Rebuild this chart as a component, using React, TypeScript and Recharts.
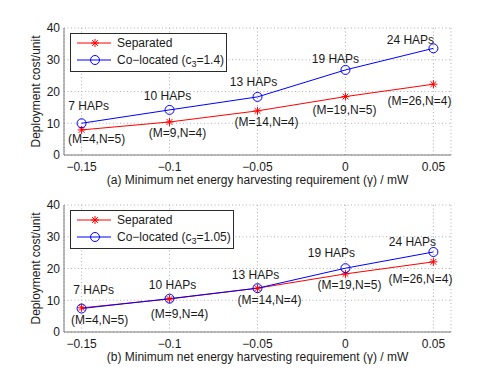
import React from "react";
import {
  LineChart,
  Line,
  XAxis,
  YAxis,
  CartesianGrid,
  LabelList,
} from "recharts";

const gamma = [-0.15, -0.1, -0.05, 0, 0.05];
const yTicks = [0, 10, 20, 30, 40];

// panel (a)
const separatedA = [7.9, 10.4, 13.9, 18.4, 22.3];
const colocatedA = [10.0, 14.2, 18.3, 26.8, 33.6];
// panel (b)
const separatedB = [7.6, 10.4, 13.8, 18.3, 22.1];
const colocatedB = [7.4, 10.5, 13.8, 20.1, 25.2];

const hapLabels = ["7 HAPs", "10 HAPs", "13 HAPs", "19 HAPs", "24 HAPs"];
const mnLabels = ["(M=4,N=5)", "(M=9,N=4)", "(M=14,N=4)", "(M=19,N=5)", "(M=26,N=4)"];

// pixel nudges of the annotations from their points (like matlab text())
const hapNudgeA = [[7, -17], [-2, -14], [-4, -15], [-10, -11], [-23, -8]];
const mnNudgeA = [[15, 9], [8, 11], [9, 11], [-1, 13], [-14, 17]];
const hapNudgeB = [[12, -19], [3, -14], [-2, -13], [-14, -15], [-21, -10]];
const mnNudgeB = [[18, 12], [10, 15], [12, 12], [4, 11], [-13, 17]];

const FONT = "'Liberation Sans', Arial, Helvetica, sans-serif";
const TEXT = "#1a1a1a";
const AXIS = "#7a7a7a";

const fmt = (v: number) => (v < 0 ? "\u2212" + String(Math.abs(v)) : String(v));

const Star = (props: any) => {
  const { cx, cy } = props;
  if (cx == null || cy == null) return null;
  const r = 4;
  const d = r * 0.72;
  return (
    <g stroke="#ff0000" strokeWidth={1}>
      <line x1={cx - r} y1={cy} x2={cx + r} y2={cy} />
      <line x1={cx} y1={cy - r} x2={cx} y2={cy + r} />
      <line x1={cx - d} y1={cy - d} x2={cx + d} y2={cy + d} />
      <line x1={cx - d} y1={cy + d} x2={cx + d} y2={cy - d} />
    </g>
  );
};

const Ring = (props: any) => {
  const { cx, cy } = props;
  if (cx == null || cy == null) return null;
  return <circle cx={cx} cy={cy} r={4.5} fill="none" stroke="#0000ff" strokeWidth={1} />;
};

const note = (texts: string[], nudge: number[][]) => (props: any) => {
  const { x, y, index } = props;
  if (x == null || y == null || index == null) return null;
  return (
    <text
      x={x + nudge[index][0]}
      y={y + nudge[index][1]}
      textAnchor="middle"
      dominantBaseline="central"
      fontSize={12}
      fontFamily={FONT}
      fill={TEXT}
    >
      {texts[index]}
    </text>
  );
};

function LegendBox({ left, top, width, c3 }: { left: number; top: number; width: number; c3: string }) {
  return (
    <svg
      width={width}
      height={40}
      style={{ position: "absolute", left, top, overflow: "visible" }}
    >
      <rect x={0.5} y={0.5} width={width - 1} height={38} fill="#fff" stroke="#2b2b2b" />
      <line x1={7} y1={10} x2={41} y2={10} stroke="#ff0000" />
      <Star cx={25} cy={10} />
      <text x={47} y={10} dominantBaseline="central" fontSize={12} fontFamily={FONT} fill={TEXT}>
        Separated
      </text>
      <line x1={7} y1={27} x2={41} y2={27} stroke="#0000ff" />
      <Ring cx={25} cy={27} />
      <text x={47} y={27} dominantBaseline="central" fontSize={12} fontFamily={FONT} fill={TEXT}>
        Co{"\u2212"}located (c
        <tspan fontSize={9} dy={4}>3</tspan>
        <tspan dy={-4}>={c3})</tspan>
      </text>
    </svg>
  );
}

type PanelProps = {
  height: number;
  top: number;
  axisH: number;
  labelOffset: number;
  tag: string;
  separated: number[];
  colocated: number[];
  hapNudge: number[][];
  mnNudge: number[][];
};

function Panel(p: PanelProps) {
  const data = gamma.map((g, i) => ({ g, sep: p.separated[i], col: p.colocated[i] }));
  return (
    <LineChart
      width={498}
      height={p.height}
      data={data}
      margin={{ top: p.top, right: 47, bottom: 0, left: 0 }}
    >
      <CartesianGrid stroke="#b0b0b0" strokeDasharray="1 2.5" verticalPoints={undefined} />
      <XAxis
        dataKey="g"
        type="number"
        domain={[-0.16, 0.06]}
        ticks={gamma}
        tickFormatter={fmt}
        height={p.axisH}
        tickLine={false}
        tickSize={0}
        tickMargin={7}
        stroke={AXIS}
        tick={{ fill: TEXT, fontSize: 12, fontFamily: FONT }}
        label={{
          value: `(${p.tag}) Minimum net energy harvesting requirement (\u03b3) / mW`,
          position: "insideBottom",
          offset: p.labelOffset,
          fill: TEXT,
          fontSize: 12,
          fontFamily: FONT,
        }}
      />
      <XAxis
        xAxisId="top"
        orientation="top"
        dataKey="g"
        type="number"
        domain={[-0.16, 0.06]}
        height={0}
        tick={false}
        tickLine={false}
        stroke={AXIS}
      />
      <YAxis
        type="number"
        domain={[0, 40]}
        ticks={yTicks}
        width={64}
        tickLine={false}
        tickSize={0}
        tickMargin={4}
        stroke={AXIS}
        tick={{ fill: TEXT, fontSize: 12, fontFamily: FONT }}
        label={{
          value: "Deployment cost/unit",
          angle: -90,
          position: "center",
          dx: 4,
          fill: TEXT,
          fontSize: 12,
          fontFamily: FONT,
        }}
      />
      <YAxis
        yAxisId="right"
        orientation="right"
        type="number"
        domain={[0, 40]}
        width={0}
        tick={false}
        tickLine={false}
        stroke={AXIS}
      />
      <Line
        dataKey="sep"
        stroke="#ff0000"
        strokeWidth={1}
        dot={<Star />}
        activeDot={false}
        isAnimationActive={false}
      >
        <LabelList dataKey="sep" content={note(mnLabels, p.mnNudge)} />
      </Line>
      <Line
        dataKey="col"
        stroke="#0000ff"
        strokeWidth={1}
        dot={<Ring />}
        activeDot={false}
        isAnimationActive={false}
      >
        <LabelList dataKey="col" content={note(hapLabels, p.hapNudge)} />
      </Line>
    </LineChart>
  );
}

export default function App() {
  return (
    <div style={{ position: "absolute", left: 0, top: 0, width: 498, height: 374, background: "#fff" }}>
      <div style={{ position: "relative", width: 498, height: 190 }}>
        <Panel
          height={190}
          top={28}
          axisH={35}
          labelOffset={6}
          tag="a"
          separated={separatedA}
          colocated={colocatedA}
          hapNudge={hapNudgeA}
          mnNudge={mnNudgeA}
        />
        <LegendBox left={70} top={33} width={157} c3="1.4" />
      </div>
      <div style={{ position: "relative", width: 498, height: 184 }}>
        <Panel
          height={184}
          top={15}
          axisH={42}
          labelOffset={13}
          tag="b"
          separated={separatedB}
          colocated={colocatedB}
          hapNudge={hapNudgeB}
          mnNudge={mnNudgeB}
        />
        <LegendBox left={70} top={20} width={164} c3="1.05" />
      </div>
    </div>
  );
}
